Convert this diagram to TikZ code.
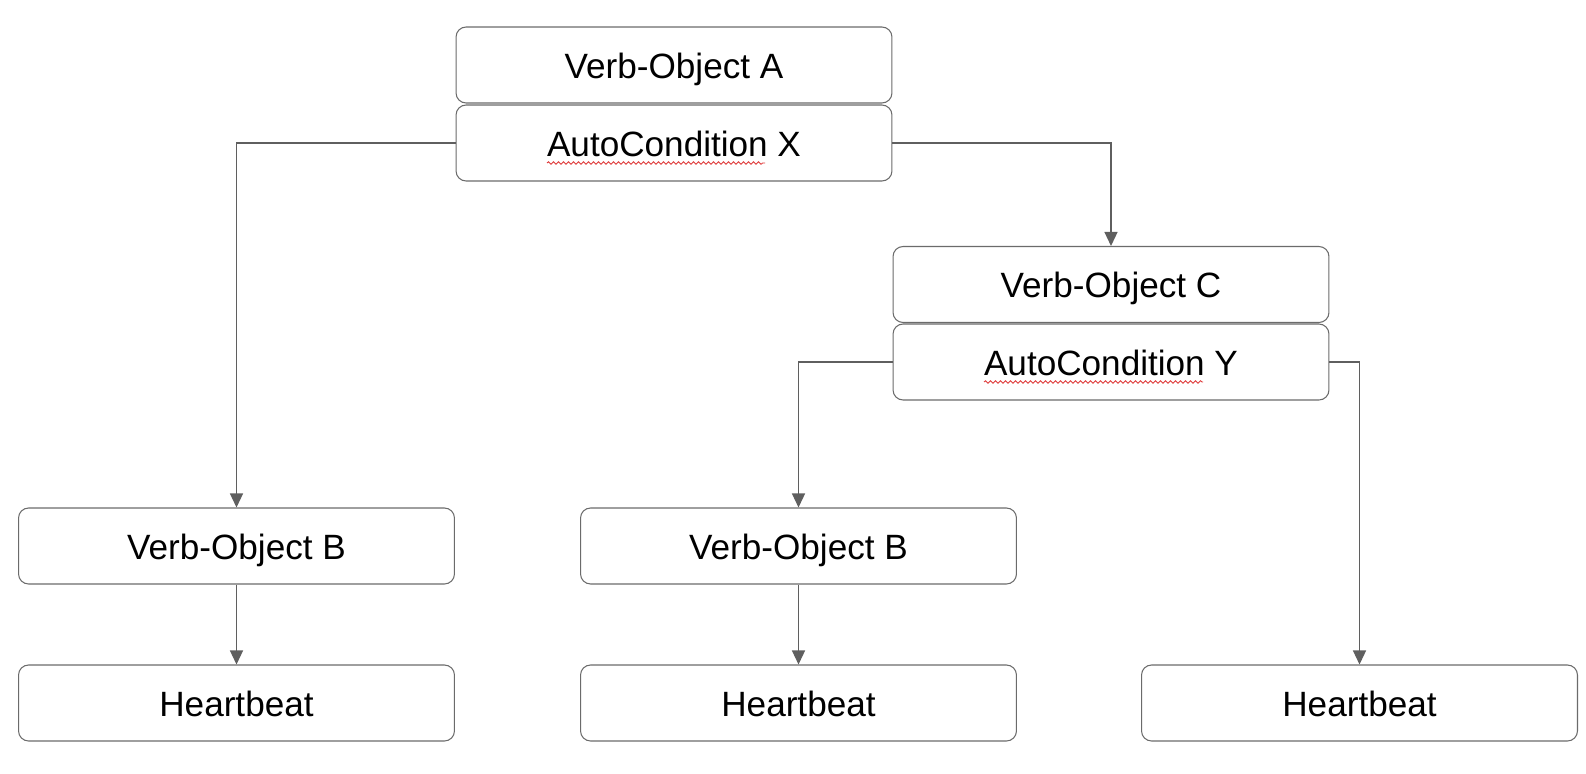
\documentclass[tikz,border=0pt]{standalone}
\usepackage{fontspec}
\setmainfont{Liberation Sans}
\usepackage{tikz}
\usetikzlibrary{arrows.meta,positioning,calc,decorations.pathmorphing}
\definecolor{edge}{HTML}{5F5F5F}
\definecolor{frame}{HTML}{6B6B6B}
\definecolor{spell}{HTML}{E03C3C}

\begin{document}
\begin{tikzpicture}[x=0.02cm, y=-0.02cm,
  blk/.style={rectangle, draw=frame, fill=white, rounded corners=0.2cm, minimum width=8.72cm, minimum height=1.52cm, font=\fontsize{20}{24}\selectfont, align=center, line width=0.6pt, inner sep=0pt, text height=15pt, text depth=0pt},
  conn/.style={-{Triangle[length=0.28cm, width=0.26cm]}, edge, line width=0.75pt},
  squig/.style={spell, line width=0.5pt, decorate, decoration={snake, amplitude=0.025cm, segment length=0.1cm}}
]
\useasboundingbox (0,0) rectangle (1586,774);
% top block
\node[blk] (voA) at (674,65) {Verb-Object A};
\node[blk] (acX) at (674,143) {AutoCondition X};
% middle block
\node[blk] (voC) at (1111,284.5) {Verb-Object C};
\node[blk] (acY) at (1111,362) {AutoCondition Y};
% bottom rows
\node[blk] (voB1) at (236.5,546) {Verb-Object B};
\node[blk] (voB2) at (798.5,546) {Verb-Object B};
\node[blk] (hb1) at (236.5,703) {Heartbeat};
\node[blk] (hb2) at (798.5,703) {Heartbeat};
\node[blk] (hb3) at (1359.5,703) {Heartbeat};

\draw[conn] (acX.west) -| (voB1.north);
\draw[conn] (acX.east) -| (voC.north);
\draw[conn] (acY.west) -| (voB2.north);
\draw[conn] (acY.east) -| (hb3.north);
\draw[conn] (voB1) -- (hb1);
\draw[conn] (voB2) -- (hb2);

% spell-check marks
\draw[squig] ($(acX.center)+(-127,20)$) -- ($(acX.center)+(91,20)$);
\draw[squig] ($(acY.center)+(-127,20)$) -- ($(acY.center)+(92,20)$);
\end{tikzpicture}
\end{document}
